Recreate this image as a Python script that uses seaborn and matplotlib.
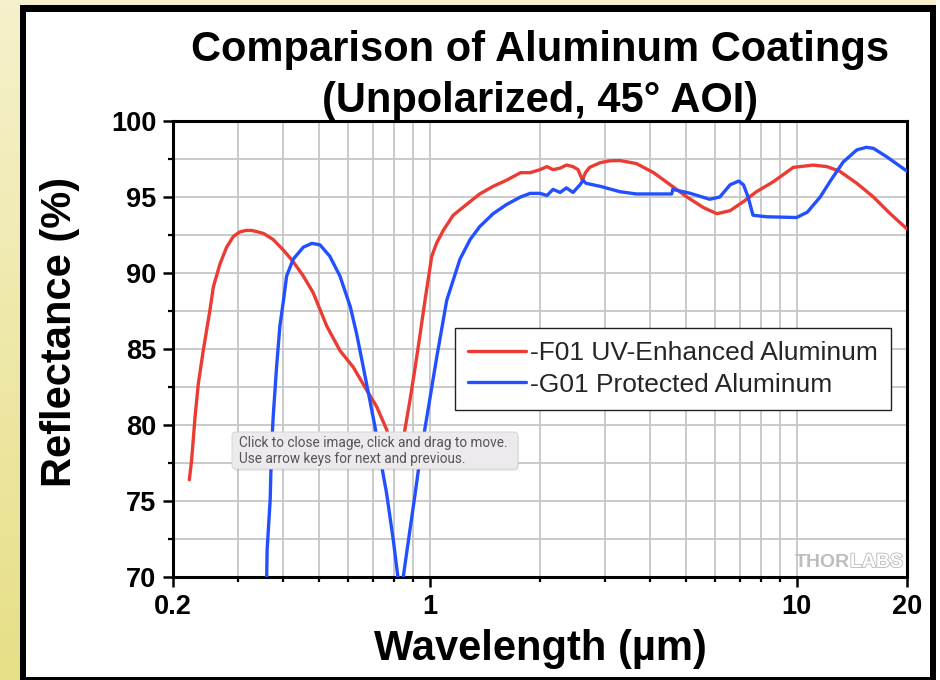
import numpy as np
import pandas as pd
import matplotlib
matplotlib.use("Agg")
import matplotlib.pyplot as plt
import seaborn as sns
from matplotlib.ticker import FixedLocator, FixedFormatter, NullFormatter
from matplotlib.patches import Rectangle, FancyBboxPatch
import matplotlib.patheffects as pe

# ---------------- data ----------------
series_names = ["-F01 UV-Enhanced Aluminum", "-G01 Protected Aluminum"]

red_wl = [0.2216, 0.2248, 0.2296, 0.2344, 0.2418, 0.2523, 0.2577, 0.2686, 0.280, 0.292,
          0.304, 0.316, 0.328, 0.341, 0.353, 0.375, 0.400, 0.425, 0.453, 0.482,
          0.503, 0.525, 0.570, 0.620, 0.674, 0.718, 0.764, 0.790, 0.815, 0.835,
          0.857, 0.884, 0.914, 0.943, 0.972, 1.014, 1.047, 1.09, 1.16, 1.26,
          1.37, 1.49, 1.62, 1.77, 1.88, 2.0, 2.09, 2.17, 2.27, 2.36,
          2.46, 2.54, 2.58, 2.61, 2.66, 2.73, 2.92, 3.10, 3.30, 3.66,
          4.08, 4.53, 5.03, 5.58, 6.07, 6.59, 7.17, 7.78, 8.64, 9.80,
          11.1, 12.1, 13.1, 14.6, 16.2, 18.0, 20.0]
red_R = [76.4, 77.7, 80.5, 82.7, 84.9, 87.6, 89.1, 90.6, 91.7, 92.4,
         92.7, 92.8, 92.8, 92.7, 92.6, 92.2, 91.5, 90.75, 89.8, 88.7,
         87.6, 86.5, 84.9, 83.8, 82.3, 81.2, 79.7, 78.5, 77.6, 78.2,
         79.7, 81.6, 83.8, 86.0, 88.2, 91.1, 92.0, 92.8, 93.8, 94.5,
         95.2, 95.7, 96.1, 96.6, 96.6, 96.8, 97.0, 96.8, 96.9, 97.1,
         97.0, 96.8, 96.4, 96.1, 96.6, 96.95, 97.26, 97.38, 97.4, 97.2,
         96.6, 95.8, 95.0, 94.3, 93.9, 94.1, 94.7, 95.35, 96.0, 96.95,
         97.1, 97.0, 96.7, 95.9, 95.0, 93.9, 92.9]

blue_wl = [0.358, 0.360, 0.361, 0.368, 0.371, 0.375, 0.383, 0.391, 0.400, 0.408,
           0.425, 0.453, 0.478, 0.503, 0.535, 0.570, 0.608, 0.633, 0.660, 0.688,
           0.710, 0.733, 0.764, 0.797, 0.820, 0.834, 0.848, 0.876, 0.914, 0.943,
           0.983, 1.047, 1.114, 1.21, 1.29, 1.37, 1.49, 1.62, 1.77, 1.88,
           2.0, 2.09, 2.17, 2.27, 2.36, 2.46, 2.57, 2.62, 2.67, 2.92,
           3.30, 3.66, 4.57, 4.60, 5.12, 5.80, 6.18, 6.59, 6.96, 7.17,
           7.38, 7.61, 8.28, 10.0, 10.7, 11.6, 12.4, 13.4, 14.6, 15.5,
           16.2, 17.6, 20.0]
blue_R = [68.5, 70.0, 71.8, 75.1, 78.4, 80.55, 83.8, 86.5, 88.2, 89.8,
          90.9, 91.7, 91.95, 91.85, 91.1, 89.8, 87.8, 86.0, 83.8, 81.6,
          79.9, 77.9, 75.5, 72.4, 70.0, 69.0, 70.0, 72.4, 75.5, 77.9,
          80.5, 84.5, 88.2, 90.9, 92.2, 93.05, 93.9, 94.5, 95.0, 95.24,
          95.24, 95.1, 95.5, 95.3, 95.6, 95.3, 95.8, 96.1, 95.9, 95.7,
          95.35, 95.2, 95.2, 95.5, 95.25, 94.85, 95.0, 95.8, 96.05, 95.8,
          95.0, 93.8, 93.7, 93.65, 94.0, 95.0, 96.1, 97.3, 98.1, 98.27,
          98.2, 97.65, 96.7]

x_major = [0.2, 1, 10, 20]
x_major_labels = ["0.2", "1", "10", "20"]
x_minor = [0.3, 0.4, 0.5, 0.6, 0.7, 0.8, 0.9, 2, 3, 4, 5, 6, 7, 8, 9]
y_major = [70, 75, 80, 85, 90, 95, 100]
y_minor = [72.5, 77.5, 82.5, 87.5, 92.5, 97.5]

title_text = "Comparison of Aluminum Coatings\n(Unpolarized, 45° AOI)"
xlabel_text = "Wavelength (µm)"
ylabel_text = "Reflectance (%)"
tooltip_lines = ["Click to close image, click and drag to move.",
                 "Use arrow keys for next and previous."]

# ---------------- style ----------------
sns.set_theme(style="white")
plt.rcParams["font.family"] = ["Liberation Sans", "DejaVu Sans"]

W, H = 940, 680
fig = plt.figure(figsize=(W / 100, H / 100), dpi=100)


def fx(px):
    return px / W


def fy(py):
    return 1 - py / H


# background gradient (screenshot surroundings)
bg = fig.add_axes([0, 0, 1, 1], zorder=-10)
top_c = np.array([0.965, 0.945, 0.80])
bot_c = np.array([0.905, 0.875, 0.53])
t = np.linspace(0, 1, 200)[:, None, None]
grad = top_c * (1 - t) + bot_c * t
bg.imshow(np.repeat(grad, 2, axis=1), aspect="auto", extent=[0, 1, 0, 1])
bg.set_xlim(0, 1)
bg.set_ylim(0, 1)
bg.axis("off")

# right strip white
fig.patches.append(Rectangle((fx(936), 0), 1 - fx(936), 1, transform=fig.transFigure,
                             facecolor="white", edgecolor="none", zorder=-6))
# black frame and white interior
fig.patches.append(Rectangle((fx(20), 0), fx(936) - fx(20), fy(5), transform=fig.transFigure,
                             facecolor="black", edgecolor="none", zorder=-5))
fig.patches.append(Rectangle((fx(26), fy(677)), fx(930) - fx(26), fy(12) - fy(677),
                             transform=fig.transFigure, facecolor="white",
                             edgecolor="none", zorder=-4))

# ---------------- main axes ----------------
ax = fig.add_axes([fx(173), fy(577), fx(907) - fx(173), fy(121) - fy(577)])
ax.set_facecolor("white")

red_c = "#EC3B33"
blue_c = "#2350FF"

df_red = pd.DataFrame({"Wavelength": red_wl, "Reflectance": red_R})
df_blue = pd.DataFrame({"Wavelength": blue_wl, "Reflectance": blue_R})
sns.lineplot(data=df_red, x="Wavelength", y="Reflectance", ax=ax, color=red_c,
             linewidth=2.4, estimator=None, sort=False, label=series_names[0], zorder=3)
sns.lineplot(data=df_blue, x="Wavelength", y="Reflectance", ax=ax, color=blue_c,
             linewidth=2.4, estimator=None, sort=False, label=series_names[1], zorder=3)

ax.set_xscale("log")
ax.set_xlim(0.2, 20)
ax.set_ylim(70, 100)

ax.xaxis.set_major_locator(FixedLocator(x_major))
ax.xaxis.set_major_formatter(FixedFormatter(x_major_labels))
ax.xaxis.set_minor_locator(FixedLocator(x_minor))
ax.xaxis.set_minor_formatter(NullFormatter())
ax.yaxis.set_major_locator(FixedLocator(y_major))
ax.yaxis.set_major_formatter(FixedFormatter([str(v) for v in y_major]))
ax.yaxis.set_minor_locator(FixedLocator(y_minor))

ax.grid(True, which="both", color="#C6C6C6", linewidth=1.3)
ax.set_axisbelow(True)

for s in ax.spines.values():
    s.set_visible(True)
    s.set_color("black")
    s.set_linewidth(2.2)

ax.tick_params(axis="both", which="major", direction="out", length=7, width=1.8,
               color="black", labelsize=19.5, pad=5, bottom=True, left=True,
               top=False, right=False, labelcolor="black")
ax.tick_params(axis="both", which="minor", direction="out", length=3.5, width=1.6,
               color="black", bottom=True, left=True, top=False, right=False)
for lab in ax.get_xticklabels() + ax.get_yticklabels():
    lab.set_fontweight("bold")

ax.set_xlabel(xlabel_text, fontsize=30, fontweight="bold", color="black")
ax.xaxis.label.set_verticalalignment("baseline")
ax.xaxis.set_label_coords(0.5, -(660 - 577) / 456)
ax.set_ylabel(ylabel_text, fontsize=30, fontweight="bold", color="black")
ax.yaxis.label.set_verticalalignment("center")
ax.yaxis.set_label_coords((60 - 173) / 734, (577 - 332) / 456)

ax.set_title(title_text, fontsize=30, fontweight="bold", color="black",
             linespacing=1.36, pad=3)

leg = ax.legend(loc="upper left", bbox_to_anchor=((455 - 173) / 734, (577 - 328) / 456),
                borderaxespad=0, frameon=True, fancybox=False, framealpha=1,
                edgecolor="#222222", fontsize=19, handlelength=2.2, handletextpad=0.15,
                labelspacing=0.28, borderpad=0.5)
leg.get_frame().set_linewidth(1.0)
for line in leg.get_lines():
    line.set_linewidth(2.4)

# watermark
ax.text(fx(850), fy(567), "THOR", transform=fig.transFigure, ha="right", va="baseline",
        fontsize=14, fontweight="bold", color="#BDBDBD", zorder=4)
ax.text(fx(850), fy(567), "LABS", transform=fig.transFigure, ha="left", va="baseline",
        fontsize=14, fontweight="bold", color="white", zorder=4,
        path_effects=[pe.withStroke(linewidth=1.3, foreground="#BDBDBD")])

# tooltip overlay (screenshot artefact)
tx0, ty0, tx1, ty1 = 232, 432, 518, 469
shadow = FancyBboxPatch(((tx0 + 1) / 100, (H - ty1 - 2) / 100), (tx1 - tx0) / 100, (ty1 - ty0) / 100,
                        boxstyle="round,pad=0,rounding_size=0.04", transform=fig.dpi_scale_trans,
                        facecolor=(0, 0, 0, 0.08), edgecolor="none", zorder=5)
box = FancyBboxPatch((tx0 / 100, (H - ty1) / 100), (tx1 - tx0) / 100, (ty1 - ty0) / 100,
                     boxstyle="round,pad=0,rounding_size=0.04", transform=fig.dpi_scale_trans,
                     facecolor="#ECEAEC", edgecolor="#D2D0D2", linewidth=0.6, zorder=6)
fig.patches.append(shadow)
fig.patches.append(box)
fig.text(fx(239), fy(447), tooltip_lines[0], ha="left", va="baseline",
         fontsize=9.8, color="#555555", family=["Roboto", "DejaVu Sans"], zorder=7)
fig.text(fx(239), fy(463), tooltip_lines[1], ha="left", va="baseline",
         fontsize=9.8, color="#555555", family=["Roboto", "DejaVu Sans"], zorder=7)

fig.savefig("out.png", dpi=100)
